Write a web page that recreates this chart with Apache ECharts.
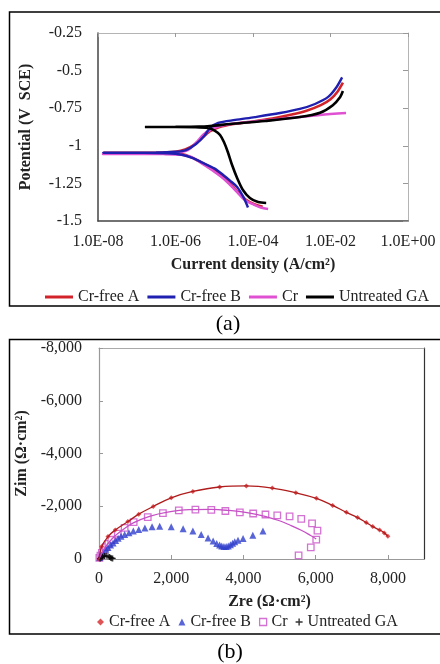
<!DOCTYPE html>
<html>
<head>
<meta charset="utf-8">
<title>Tafel and Nyquist</title>
<script src="https://cdn.jsdelivr.net/npm/echarts/dist/echarts.min.js"></script>
<style>
  html, body { margin: 0; padding: 0; background: #fff; }
  #chart { width: 440px; height: 664px; }
</style>
</head>
<body>
<div id="chart"></div>
<script>
// ---- (a) polarization curves: [log10(current density), potential V] in sweep order
var tafelCrFreeA = [[-3.75,-1.405],[-3.95,-1.39],[-4.2,-1.355],[-4.45,-1.29],[-4.7,-1.222],[-5.0,-1.16],[-5.3,-1.115],[-5.6,-1.075],[-5.85,-1.055],[-6.3,-1.048],[-7.0,-1.047],[-7.85,-1.047],
    [-6.5,-1.046],[-6.0,-1.04],[-5.75,-1.025],[-5.5,-0.99],[-5.3,-0.945],[-5.12,-0.905],[-4.9,-0.878],[-4.5,-0.855],[-4.0,-0.838],[-3.5,-0.818],[-3.0,-0.792],[-2.6,-0.765],[-2.25,-0.73],[-2.0,-0.69],[-1.82,-0.64],[-1.68,-0.58]];
var tafelCrFreeB = [[-4.13,-1.41],[-4.25,-1.34],[-4.41,-1.274],[-4.6,-1.23],[-4.77,-1.194],[-5.0,-1.15],[-5.29,-1.114],[-5.55,-1.082],[-5.81,-1.061],[-6.2,-1.05],[-7.0,-1.047],[-7.87,-1.046],
    [-6.5,-1.045],[-6.0,-1.04],[-5.73,-1.028],[-5.47,-0.988],[-5.26,-0.935],[-5.11,-0.882],[-4.9,-0.848],[-4.46,-0.828],[-3.95,-0.809],[-3.3,-0.782],[-2.79,-0.755],[-2.4,-0.722],[-2.06,-0.675],[-1.86,-0.616],[-1.7,-0.545]];
var tafelCr = [[-3.61,-1.42],[-3.8,-1.41],[-3.95,-1.394],[-4.21,-1.36],[-4.46,-1.294],[-4.72,-1.227],[-5.06,-1.161],[-5.37,-1.108],[-5.6,-1.075],[-5.85,-1.06],[-6.3,-1.055],[-7.0,-1.054],[-7.87,-1.054],
    [-6.5,-1.052],[-6.0,-1.045],[-5.68,-1.028],[-5.47,-0.98],[-5.29,-0.928],[-5.11,-0.895],[-4.85,-0.868],[-4.34,-0.848],[-3.56,-0.828],[-2.79,-0.809],[-2.27,-0.795],[-1.6,-0.782]];
var tafelUntreated = [[-3.66,-1.38],[-3.87,-1.374],[-4.08,-1.347],[-4.26,-1.294],[-4.41,-1.214],[-4.54,-1.128],[-4.65,-1.041],[-4.75,-0.975],[-4.85,-0.928],[-4.98,-0.9],[-5.16,-0.882],[-5.5,-0.876],[-6.0,-0.875],[-6.79,-0.875],
    [-6.0,-0.874],[-5.4,-0.872],[-5.11,-0.868],[-4.59,-0.855],[-3.69,-0.835],[-2.79,-0.809],[-2.27,-0.78],[-1.94,-0.73],[-1.75,-0.675],[-1.68,-0.636]];

// ---- (b) Nyquist: [Zre, Zim] in ohm*cm2
var eisCrFreeA = [[0,0],[75,-470],[250,-850],[450,-1100],[800,-1420],[1100,-1700],[1500,-1990],[2000,-2320],[2600,-2560],[3340,-2730],[4080,-2770],[4800,-2690],[5450,-2510],[6020,-2300],
    [6470,-2030],[6850,-1770],[7160,-1570],[7400,-1380],[7580,-1230],[7770,-1100],[7900,-990],[8000,-860]];
var eisCrFreeB = [[20,-60],[60,-150],[120,-260],[190,-370],[250,-440],[320,-530],[390,-610],[460,-700],[530,-790],[610,-860],[710,-930],[830,-1000],[950,-1060],[1100,-1120],[1270,-1180],[1470,-1220],[1680,-1240],
    [2000,-1220],[2330,-1150],[2600,-1060],[2830,-930],[3020,-800],[3160,-680],[3260,-590],[3340,-530],[3400,-490],[3460,-470],[3520,-470],[3580,-490],[3640,-540],[3700,-600],[3760,-650],[3850,-710],[3990,-780],[4260,-900],[4540,-1060]];
var eisCr = [[10,-40],[40,-130],[80,-230],[130,-340],[190,-450],[260,-570],[340,-730],[520,-960],[710,-1180],[960,-1400],[1350,-1590],[1770,-1740],[2210,-1840],[2670,-1870],[3110,-1865],[3500,-1820],
    [3900,-1770],[4270,-1725],[4610,-1688],[4937,-1655],[5278,-1617],[5601,-1522],[5900,-1352],[6050,-1073],[6016,-733],[5865,-441],[5527,-138]];
var eisCrFit = [[0,0],[150,-400],[350,-750],[600,-1050],[950,-1370],[1400,-1620],[1900,-1780],[2500,-1870],[3100,-1880],[3600,-1840],[4100,-1760],[4600,-1620],[5000,-1450],[5300,-1280],[5600,-1090],[5850,-900],[6016,-760]];
var eisUntreated = [[30,-10],[60,-50],[100,-90],[150,-115],[200,-120],[250,-105],[290,-80],[320,-50],[350,-30],[380,-20]];

var tafelNames = ['Cr-free A', 'Cr-free B', 'Cr', 'Untreated GA'];

var FONT = 'Liberation Serif';
var RED = '#d2232a', BLUE = '#1f1fb0', PINK = '#e050d2', BLACK = '#000';

function expLabel(v) {
    var a = Math.abs(Math.round(v));
    return '1.0E' + (v < 0 ? '-' : '+') + (a < 10 ? '0' : '') + a;
}
function commas(v) {
    var s = String(Math.abs(v)).replace(/\B(?=(\d{3})+(?!\d))/g, ',');
    return (v < 0 ? '-' : '') + s;
}

var chart = echarts.init(document.getElementById('chart'), null, {renderer: 'canvas'});

var labelStyle = {fontFamily: FONT, fontSize: 16, color: '#222'};
var nameStyle = {fontFamily: FONT, fontSize: 16, fontWeight: 'bold', color: '#222'};

var option = {
    animation: false,
    backgroundColor: '#fff',
    grid: [
        {left: 98, top: 33, right: 32, bottom: 443, outerBoundsMode: 'none'},
        {left: 99, top: 348, right: 16, bottom: 105, outerBoundsMode: 'none'}
    ],
    xAxis: [
        {   // (a) bottom
            type: 'value', gridIndex: 0, min: -8, max: 0, interval: 2,
            name: 'Current density (A/cm²)', nameLocation: 'middle', nameGap: 36, nameMoveOverlap: false,
            nameTextStyle: nameStyle,
            axisLine: {lineStyle: {color: '#444', width: 1.5}},
            axisTick: {show: false}, splitLine: {show: false},
            axisLabel: Object.assign({margin: 13, formatter: expLabel}, labelStyle)
        },
        {   // (a) top frame
            type: 'value', gridIndex: 0, position: 'top', min: -8, max: 0, interval: 2,
            axisLine: {onZero: false, lineStyle: {color: '#b4b4b4'}},
            axisTick: {inside: true, length: 4, lineStyle: {color: '#999'}},
            axisLabel: {show: false}, splitLine: {show: false}
        },
        {   // (b) bottom
            type: 'value', gridIndex: 1, min: 0, max: 9000, interval: 2000,
            name: 'Zre (Ω·cm²)', nameLocation: 'middle', nameGap: 35, nameMoveOverlap: false,
            nameTextStyle: Object.assign({padding: [0, 0, 0, 16]}, nameStyle),
            axisLine: {onZero: false, lineStyle: {color: '#999', width: 1.2}},
            axisTick: {inside: true, length: 4, lineStyle: {color: '#999'}},
            splitLine: {show: false},
            axisLabel: Object.assign({margin: 12, showMaxLabel: false,
                formatter: function (v) { return v > 8000 ? '' : commas(v); }}, labelStyle)
        },
        {   // (b) top frame
            type: 'value', gridIndex: 1, position: 'top', min: 0, max: 9000,
            axisLine: {onZero: false, lineStyle: {color: '#aaa'}},
            axisTick: {show: false}, axisLabel: {show: false}, splitLine: {show: false}
        }
    ],
    yAxis: [
        {   // (a) left
            type: 'value', gridIndex: 0, min: -1.5, max: -0.25, interval: 0.25,
            name: 'Potential (V  SCE)', nameLocation: 'middle', nameGap: 64, nameMoveOverlap: false,
            nameTextStyle: nameStyle,
            axisLine: {show: true, onZero: false, lineStyle: {color: '#444', width: 1.5}},
            axisTick: {show: false}, splitLine: {show: false},
            axisLabel: Object.assign({margin: 16}, labelStyle)
        },
        {   // (a) right frame
            type: 'value', gridIndex: 0, position: 'right', min: -1.5, max: -0.25, interval: 0.25,
            axisLine: {show: true, onZero: false, lineStyle: {color: '#b4b4b4'}},
            axisTick: {show: true, inside: true, length: 5, lineStyle: {color: '#999'}},
            axisLabel: {show: false}, splitLine: {show: false}
        },
        {   // (b) left
            type: 'value', gridIndex: 1, min: -8000, max: 0, interval: 2000, inverse: true,
            name: 'Zim (Ω·cm²)', nameLocation: 'middle', nameGap: 69, nameMoveOverlap: false,
            nameTextStyle: nameStyle,
            axisLine: {show: true, onZero: false, lineStyle: {color: '#999', width: 1.2}},
            axisTick: {show: true, inside: true, length: 4, lineStyle: {color: '#999'}},
            splitLine: {show: false},
            axisLabel: Object.assign({margin: 17, formatter: commas}, labelStyle)
        },
        {   // (b) right frame
            type: 'value', gridIndex: 1, position: 'right', min: -8000, max: 0, inverse: true,
            axisLine: {show: true, onZero: false, lineStyle: {color: '#333', width: 1.2}},
            axisTick: {show: false}, axisLabel: {show: false}, splitLine: {show: false}
        }
    ],
    legend: [
        {
            data: tafelNames, left: 40, top: 284, orient: 'horizontal', icon: 'rect',
            itemWidth: 28, itemHeight: 3, itemGap: 8,
            textStyle: {fontFamily: FONT, fontSize: 16, color: '#222'}
        },
        {
            data: [
                {name: 'EIS Cr-free A', icon: 'diamond'},
                {name: 'EIS Cr-free B', icon: 'triangle'},
                {name: 'EIS Cr', icon: 'rect', itemStyle: {color: '#fff', borderColor: '#c84fc8', borderWidth: 1.3}},
                {name: 'EIS Untreated GA', icon: 'path://M4,0H6V4H10V6H6V10H4V6H0V4H4Z'}
            ],
            left: 92, top: 609, itemWidth: 7, itemHeight: 7, itemGap: 8,
            formatter: function (n) { return n.replace('EIS ', ''); },
            textStyle: {fontFamily: FONT, fontSize: 16, color: '#222'}
        }
    ],
    graphic: [
        {type: 'rect', silent: true, shape: {x: 9.5, y: 12, width: 440, height: 294},
            style: {fill: 'none', stroke: '#000', lineWidth: 1.5}},
        {type: 'rect', silent: true, shape: {x: 9.5, y: 339.5, width: 440, height: 294.5},
            style: {fill: 'none', stroke: '#000', lineWidth: 1.5}},
        {type: 'text', silent: true, style: {x: 228, y: 324, text: '(a)', textAlign: 'center', textVerticalAlign: 'middle',
            font: '22px "Liberation Serif"', fill: '#000'}},
        {type: 'text', silent: true, style: {x: 230, y: 652, text: '(b)', textAlign: 'center', textVerticalAlign: 'middle',
            font: '22px "Liberation Serif"', fill: '#000'}}
    ],
    series: [
        {name: 'Cr-free A', type: 'line', xAxisIndex: 0, yAxisIndex: 0, data: tafelCrFreeA, smooth: 0.3,
            symbol: 'none', lineStyle: {color: RED, width: 2.6}, itemStyle: {color: RED}},
        {name: 'Cr', type: 'line', xAxisIndex: 0, yAxisIndex: 0, data: tafelCr, smooth: 0.3,
            symbol: 'none', lineStyle: {color: PINK, width: 2.6}, itemStyle: {color: PINK}},
        {name: 'Cr-free B', type: 'line', xAxisIndex: 0, yAxisIndex: 0, data: tafelCrFreeB, smooth: 0.3,
            symbol: 'none', lineStyle: {color: BLUE, width: 2.4}, itemStyle: {color: BLUE}},
        {name: 'Untreated GA', type: 'line', xAxisIndex: 0, yAxisIndex: 0, data: tafelUntreated, smooth: 0.3,
            symbol: 'none', lineStyle: {color: BLACK, width: 2.6}, itemStyle: {color: BLACK}},

        // (b)
        {name: 'EIS Cr fit', type: 'line', xAxisIndex: 2, yAxisIndex: 2, data: eisCrFit, smooth: 0.4,
            symbol: 'none', lineStyle: {color: '#c64fc6', width: 1.3}},
        {name: 'EIS Cr-free A fit', type: 'line', xAxisIndex: 2, yAxisIndex: 2, data: eisCrFreeA, smooth: 0.4,
            symbol: 'none', lineStyle: {color: '#b01c1c', width: 1.3}},
        {name: 'EIS Cr', type: 'scatter', xAxisIndex: 2, yAxisIndex: 2, data: eisCr, symbol: 'rect', symbolSize: 6.5,
            itemStyle: {color: '#fff', borderColor: '#c84fc8', borderWidth: 1.3}},
        {name: 'EIS Cr-free B', type: 'scatter', xAxisIndex: 2, yAxisIndex: 2, data: eisCrFreeB, symbol: 'triangle', symbolSize: 7,
            itemStyle: {color: '#2f3fcc'}},
        {name: 'EIS Cr-free A', type: 'scatter', xAxisIndex: 2, yAxisIndex: 2, data: eisCrFreeA, symbol: 'diamond', symbolSize: 5,
            itemStyle: {color: '#d6282c'}},
        {name: 'EIS Untreated GA', type: 'scatter', xAxisIndex: 2, yAxisIndex: 2, data: eisUntreated,
            symbol: 'path://M4,0H6V4H10V6H6V10H4V6H0V4H4Z', symbolSize: 6, itemStyle: {color: '#000'}}
    ]
};

chart.setOption(option);
</script>
</body>
</html>
